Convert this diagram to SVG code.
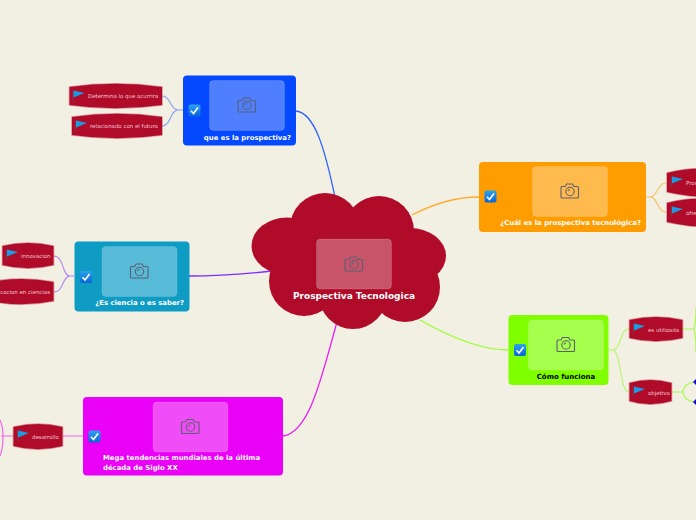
<svg xmlns="http://www.w3.org/2000/svg" xmlns:xlink="http://www.w3.org/1999/xlink" width="696" height="520" viewBox="0 0 696 520">
<style>
text{font-family:"DejaVu Sans",sans-serif}
.t{font-size:6.9px;font-weight:700;fill:#fff}
.s{font-size:5.45px;fill:#f2c4cf}
.pic{fill:#fff;fill-opacity:.3;stroke:#fff;stroke-opacity:.12}
.c{fill:none;stroke-width:1.3}
.cl{fill:none;stroke-width:1.1;stroke-opacity:.55}
.r{fill:#b10b2a;stroke:#b10b2a;stroke-opacity:.4;stroke-width:1.6;stroke-linejoin:round}
</style>
<defs>
<linearGradient id="cb" x1="0" y1="0" x2="0" y2="1"><stop offset="0" stop-color="#2aa4ee"/><stop offset="1" stop-color="#0a62d8"/></linearGradient>
<g id="cam" fill="none" stroke="#5c6070" stroke-width="1.1"><path d="M-8.500-5.500h3.500l1.500-2.500h6l1.500 2.500h3.500a1 1 0 0 1 1 1v9.500a1 1 0 0 1-1 1h-15.500a1 1 0 0 1-1-1v-9.500a1 1 0 0 1 1-1z"/><circle cx="0" cy="-.5" r="4.200"/><path d="M-2-1a2.300 2.300 0 0 1 2-1.500"/></g>
<g id="chk"><rect x="-6" y="-6" width="12" height="12" rx="2" fill="url(#cb)"/><path d="M-3.500 .3l2.500 2.700 4.500-6" fill="none" stroke="#fff" stroke-width="1.600"/></g>
<g id="flag"><path d="M-.7-5.500v11" stroke="#8c2a40" stroke-width="1.400"/><path d="M0-5.500l11 2.500-11 4.500z" fill="#1b9be0"/></g>
</defs>
<rect width="696" height="520" fill="#f2efe3"/>
<g id="connectors">
<path class="c" stroke="#2a60ff" d="M296 111C315 113 325 150 335 197"/>
<path class="c" stroke="#ffab2e" d="M412 215C435 203 455 197 479 197"/>
<path class="c" stroke="#9cff2e" d="M420 320C450 337 480 350 508 350"/>
<path class="c" stroke="#7a2eff" d="M189 276C220 276 245 274 272 271"/>
<path class="c" stroke="#ee1cf0" d="M283 436C310 432 322 375 337 322"/>
<path class="cl" stroke="#2a60ff" d="M183 110H178C170 110 171 96 162 96M183 110H178C170 110 171 126 162 126"/>
<path class="cl" stroke="#ff9c00" d="M646 197H650C658 197 657 183 666 183M646 197H650C658 197 657 212 666 212"/>
<path class="cl" stroke="#7fff00" d="M608 350H612C622 350 619 329 629 329M608 350H612C622 350 619 392 629 392"/>
<path stroke="#7fff00" stroke-opacity=".65" stroke-width="1.200" fill="none" d="M683 329H694M694 329C696 322 696 315 696 308M694 329C696 336 696 345 696 352M672 392H683C683 386 689 382 696 382M683 392C683 398 689 402 696 402"/>
<path class="cl" stroke="#7a2eff" d="M74 276H70C62 276 64 256 54 256M74 276H70C62 276 64 292 54 292"/>
<path stroke="#ee1cf0" stroke-opacity=".65" stroke-width="1.200" fill="none" d="M83 436H63M13 436H1M0 420C4 428 4 446 0 456"/>
</g>
<g id="center">
<g fill="#b10b2a"><circle cx="325" cy="228" r="35"/><circle cx="379" cy="231" r="35"/><ellipse cx="287" cy="246" rx="35.500" ry="28.500"/><ellipse cx="410" cy="256" rx="36" ry="28"/><circle cx="304" cy="281" r="35"/><circle cx="353" cy="295" r="34"/><circle cx="405" cy="287" r="35"/><rect x="300" y="225" width="100" height="70"/></g>
<rect class="pic" x="316.500" y="239" width="75" height="50" rx="4"/><use xlink:href="#cam" href="#cam" x="354" y="265"/>
<text x="354" y="299" text-anchor="middle" font-size="9" font-weight="700" fill="#fff">Prospectiva Tecnologica</text>
</g>
<g id="n1">
<rect x="183" y="75.500" width="113" height="70" rx="4" fill="#0448ff"/>
<rect class="pic" x="209.500" y="80.500" width="75" height="50" rx="4"/><use xlink:href="#cam" href="#cam" x="247" y="106"/><use xlink:href="#chk" href="#chk" x="194.500" y="110.500"/>
<text class="t" x="291" y="139.500" text-anchor="end">que es la prospectiva?</text>
</g>
<g id="n1a"><path class="r" d="M69.500 87Q115 80.500 162 87V105Q115 111.500 69.500 105Z"/><use xlink:href="#flag" href="#flag" x="73.500" y="96"/><text class="s" x="88" y="98">Determina lo que ocurrira</text></g>
<g id="n1b"><path class="r" d="M72 117Q117 110.500 162 117V135Q117 141.500 72 135Z"/><use xlink:href="#flag" href="#flag" x="76" y="126"/><text class="s" x="90" y="128">relacionado con el futuro</text></g>
<g id="n2">
<rect x="479" y="162" width="167" height="70" rx="4" fill="#ff9c00"/>
<rect class="pic" x="532.500" y="166.500" width="75" height="50" rx="4"/><use xlink:href="#cam" href="#cam" x="570" y="192"/><use xlink:href="#chk" href="#chk" x="490.500" y="196.500"/>
<text class="t" x="641" y="225" text-anchor="end">¿Cuál es la prospectiva tecnológica?</text>
</g>
<g id="n2a"><path class="r" d="M667 173Q690 168 700 169V196Q690 197 667 192Z"/><use xlink:href="#flag" href="#flag" x="672" y="182"/><text class="s" x="686" y="185">Pros</text></g>
<g id="n2b"><path class="r" d="M667 203Q690 198 700 199V226Q690 227 667 222Z"/><use xlink:href="#flag" href="#flag" x="672" y="212"/><text class="s" x="686" y="215">ofre</text></g>
<g id="n3">
<rect x="508.500" y="315" width="100" height="70" rx="4" fill="#80ff00"/>
<rect class="pic" x="528.500" y="320" width="75" height="50" rx="4"/><use xlink:href="#cam" href="#cam" x="566" y="345.500"/><use xlink:href="#chk" href="#chk" x="520" y="350"/>
<text x="566" y="378.500" text-anchor="middle" font-size="7" font-weight="700" fill="#000">Cómo funciona</text>
</g>
<g id="n3a"><path class="r" d="M629.500 320Q656 314 682.500 320V338Q656 344.500 629.500 338Z"/><use xlink:href="#flag" href="#flag" x="634" y="329"/><text class="s" x="648" y="332">es utilizada</text></g>
<g id="n3b"><path class="r" d="M629.500 383Q650 377 671.500 383V401Q650 407.500 629.500 401Z"/><use xlink:href="#flag" href="#flag" x="634" y="392"/><text class="s" x="648" y="395">objetivo</text></g>
<g id="d1"><path d="M697 378l-4 4 4 4z" fill="#1208d0"/></g>
<g id="d2"><path d="M697 398l-4 4 4 4z" fill="#1208d0"/></g>
<g id="n4">
<rect x="74.500" y="241.500" width="115" height="70" rx="4" fill="#0f9cc4"/>
<rect class="pic" x="102" y="246.500" width="75" height="50" rx="4"/><use xlink:href="#cam" href="#cam" x="139.500" y="272"/><use xlink:href="#chk" href="#chk" x="86" y="277"/>
<text class="t" x="184" y="304.500" text-anchor="end">¿Es ciencia o es saber?</text>
</g>
<g id="n4a"><path class="r" d="M2.500 246Q28 240 53.500 246V265Q28 271.500 2.500 265Z"/><use xlink:href="#flag" href="#flag" x="7" y="255"/><text class="s" x="21" y="258">innovacion</text></g>
<g id="n4b"><path class="r" d="M-10 282Q22 276 53.500 282V301Q22 307.500 -10 301Z"/><text class="s" x="50" y="294" text-anchor="end">cacion en ciencias</text></g>
<g id="n5">
<rect x="83" y="397" width="200" height="78.500" rx="4" fill="#ea00f7"/>
<rect class="pic" x="153" y="402" width="75" height="50" rx="4"/><use xlink:href="#cam" href="#cam" x="190.500" y="427.500"/><use xlink:href="#chk" href="#chk" x="94.500" y="436.500"/>
<text class="t" x="103" y="460">Mega tendencias mundiales de la última</text>
<text class="t" x="103" y="469.500">década de Siglo XX</text>
</g>
<g id="n5a"><path class="r" d="M13.500 427Q38 421 62.500 427V446Q38 452.500 13.500 446Z"/><use xlink:href="#flag" href="#flag" x="18" y="436"/><text class="s" x="32" y="439">desarrollo</text></g>
</svg>
